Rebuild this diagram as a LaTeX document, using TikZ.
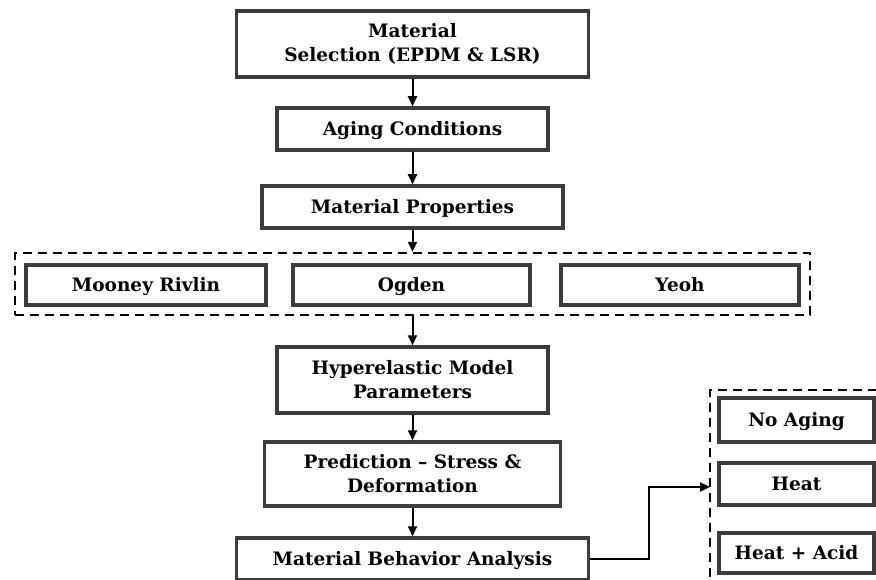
\documentclass[tikz,border=0pt]{standalone}
\usepackage{fontspec}
\setmainfont{DejaVu Serif}
\usepackage{tikz}
\usetikzlibrary{arrows.meta,positioning}
\definecolor{Edge}{HTML}{3C3C3C}

\begin{document}
\begin{tikzpicture}[x=1pt,y=-1pt,>={Triangle[length=10pt,width=9pt]},
  box/.style={draw=Edge,line width=3.5pt,fill=white,align=center,inner sep=2pt,
    font=\bfseries\fontsize{18.5}{24}\selectfont},
  one/.style={box,text height=13.5pt,text depth=0pt},
  grp/.style={draw=black,line width=2.4pt,dash pattern=on 9pt off 6pt},
  link/.style={->,line width=2pt}]
  \useasboundingbox (0,0) rectangle (876,580);
  \node[box,minimum width=352pt,minimum height=66pt] (sel) at (412.5,44) {Material\\Selection (EPDM \& LSR)};
  \node[one,minimum width=271pt,minimum height=42pt] (aging) at (412.5,129) {Aging Conditions};
  \node[one,minimum width=301pt,minimum height=42pt] (props) at (412.5,207) {Material Properties};
  \node[grp,minimum width=795pt,minimum height=62pt] (models) at (412.5,284) {};
  \node[one,minimum width=240pt,minimum height=40pt] (mooney) at (146,285) {Mooney Rivlin};
  \node[one,minimum width=237pt,minimum height=40pt] (ogden) at (411.5,285) {Ogden};
  \node[one,minimum width=238pt,minimum height=40pt] (yeoh) at (680,285) {Yeoh};
  \node[box,minimum width=271pt,minimum height=66pt] (hyper) at (412.5,380) {Hyperelastic Model\\Parameters};
  \node[box,minimum width=296pt,minimum height=64pt] (pred) at (412.5,474) {Prediction -- Stress \&\\Deformation};
  \node[one,minimum width=352pt,minimum height=42pt] (behav) at (412.5,559) {Material Behavior Analysis};
  \draw[grp] (877,390) -- (710,390) -- (710,581);
  \coordinate (agein) at (710,487);
  \node[one,minimum width=155pt,minimum height=44pt] (noage) at (796.5,420) {No Aging};
  \node[one,minimum width=155pt,minimum height=42pt] (heat) at (796.5,484) {Heat};
  \node[one,minimum width=155pt,minimum height=40pt] (acid) at (796.5,553) {Heat + Acid};
  \draw[link] (sel) -- (aging);
  \draw[link] (aging) -- (props);
  \draw[link] (props) -- (models);
  \draw[link] (models) -- (hyper);
  \draw[link] (hyper) -- (pred);
  \draw[link] (pred) -- (behav);
  \draw[link] (behav.east) -- ++(59,0) |- (agein);
\end{tikzpicture}
\end{document}
